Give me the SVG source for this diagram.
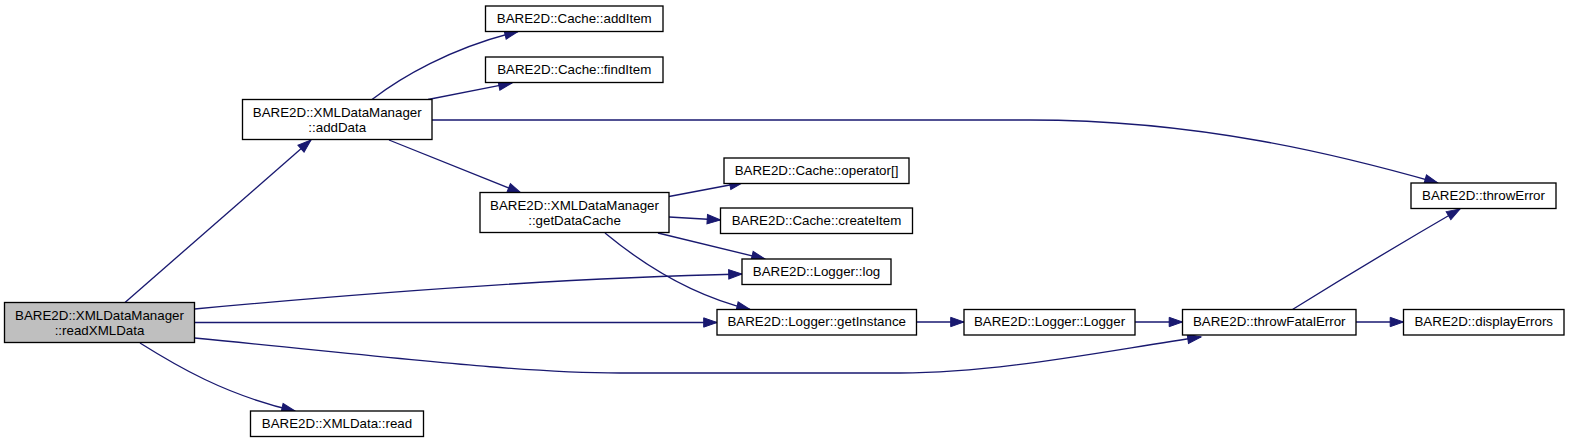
<svg xmlns="http://www.w3.org/2000/svg" width="1569" height="443" viewBox="0 0 1569 443">
<style>
.n rect{fill:#ffffff;stroke:#000000;stroke-width:1.33}
.n.root rect{fill:#bfbfbf}
.n text{font-family:"Liberation Sans",Arial,sans-serif;font-size:13.33px;fill:#000000;text-anchor:middle}
.e path{fill:none;stroke:#191970;stroke-width:1.33;marker-end:url(#ah)}
</style>
<defs>
<marker id="ah" markerUnits="userSpaceOnUse" markerWidth="14" markerHeight="10" refX="13.3" refY="4.67" orient="auto" overflow="visible">
<path d="M0,0 L13.3,4.67 L0,9.33 z" fill="#191970" stroke="#191970" stroke-width="1"/>
</marker>
</defs>
<rect width="1569" height="443" fill="#ffffff"/>
<g id="edges" class="e">
<path d="M125,302.5 L311,140"/>
<path d="M372,99.5 C400,78 450,48 518,31.5"/>
<path d="M428,99.5 L512,83"/>
<path d="M432,120 L1030,120 C1200,120 1340,155 1438,183"/>
<path d="M389,140 L521,193"/>
<path d="M669,196.5 L743,182.5"/>
<path d="M669,217 L720.5,220"/>
<path d="M658,233 L765,259"/>
<path d="M605,233 C640,262 690,295 750,309.5"/>
<path d="M194.5,309 C400,290 600,277 742,274"/>
<path d="M194.5,322.5 L717,322.5"/>
<path d="M194.5,338 C400,358 520,373 620,373 L900,373 C1000,373 1110,350 1201,337"/>
<path d="M140,343 C175,365 225,395 295,411"/>
<path d="M916.5,322 L964,322"/>
<path d="M1135,322 L1182.5,322"/>
<path d="M1356,322 L1403.5,322"/>
<path d="M1292.5,309.5 C1340,280 1410,238 1460,209"/>
</g>
<g id="readXMLData" class="n root"><rect x="4.5" y="302.5" width="190" height="40"/><text x="99.5" y="320">BARE2D::XMLDataManager</text><text x="99.5" y="335">::readXMLData</text></g>
<g id="addData" class="n"><rect x="242.5" y="99.5" width="189.5" height="40"/><text x="337.25" y="116.5">BARE2D::XMLDataManager</text><text x="337.25" y="131.5">::addData</text></g>
<g id="getDataCache" class="n"><rect x="480" y="192.5" width="189" height="40"/><text x="574.5" y="209.5">BARE2D::XMLDataManager</text><text x="574.5" y="224.5">::getDataCache</text></g>
<g id="addItem" class="n"><rect x="485.5" y="6" width="177.5" height="25.5"/><text x="574.25" y="22.5">BARE2D::Cache::addItem</text></g>
<g id="findItem" class="n"><rect x="485.5" y="57" width="177.5" height="25.5"/><text x="574.25" y="73.5">BARE2D::Cache::findItem</text></g>
<g id="operator" class="n"><rect x="724" y="158" width="185" height="25.5"/><text x="816.5" y="174.5">BARE2D::Cache::operator[]</text></g>
<g id="createItem" class="n"><rect x="720.5" y="208" width="192" height="25.5"/><text x="816.5" y="224.5">BARE2D::Cache::createItem</text></g>
<g id="log" class="n"><rect x="742" y="259" width="149" height="25.5"/><text x="816.5" y="275.5">BARE2D::Logger::log</text></g>
<g id="getInstance" class="n"><rect x="717" y="309.5" width="199.5" height="25.5"/><text x="816.75" y="326">BARE2D::Logger::getInstance</text></g>
<g id="Logger" class="n"><rect x="964" y="309.5" width="171" height="25.5"/><text x="1049.5" y="326">BARE2D::Logger::Logger</text></g>
<g id="throwFatalError" class="n"><rect x="1182.5" y="309.5" width="173.5" height="25.5"/><text x="1269.25" y="326">BARE2D::throwFatalError</text></g>
<g id="displayErrors" class="n"><rect x="1403.5" y="309.5" width="160.5" height="25.5"/><text x="1483.75" y="326">BARE2D::displayErrors</text></g>
<g id="throwError" class="n"><rect x="1411" y="183" width="145" height="25.5"/><text x="1483.5" y="199.5">BARE2D::throwError</text></g>
<g id="read" class="n"><rect x="250.5" y="411" width="173" height="25.5"/><text x="337" y="427.5">BARE2D::XMLData::read</text></g>
</svg>
